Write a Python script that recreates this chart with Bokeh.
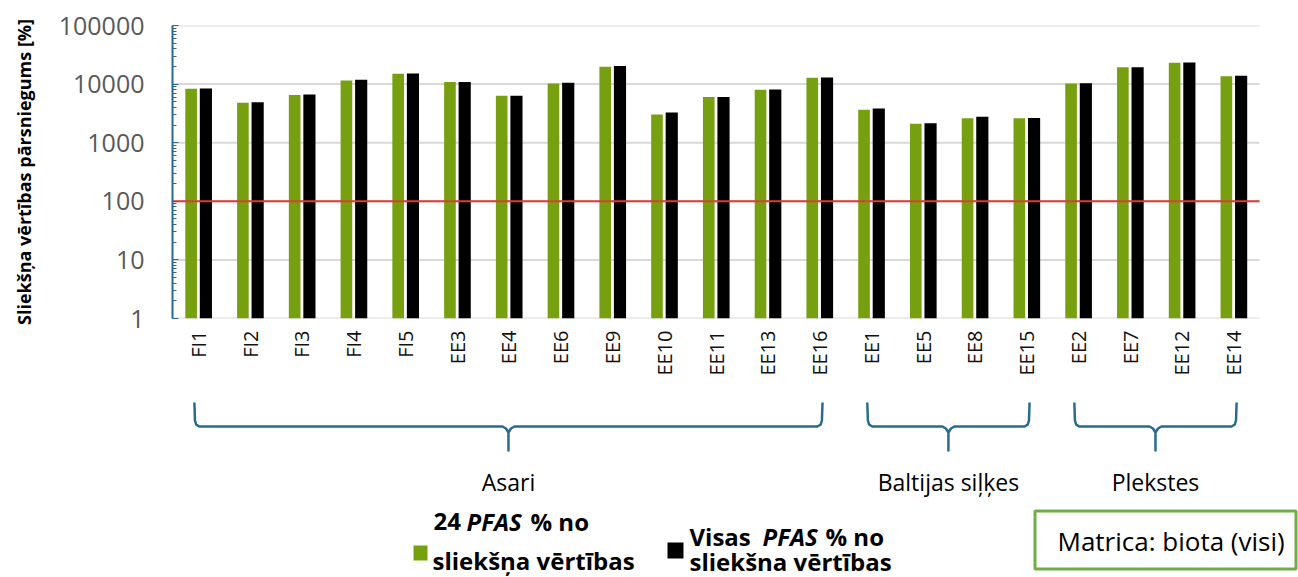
import math
from bokeh.plotting import figure
from bokeh.models import Range1d, FixedTicker, PrintfTickFormatter
from bokeh.layouts import column
from bokeh.embed import file_html
from bokeh.resources import INLINE
from bokeh.core.properties import value

# ---------------- data ----------------
categories = ["FI1", "FI2", "FI3", "FI4", "FI5", "EE3", "EE4", "EE6", "EE9", "EE10",
              "EE11", "EE13", "EE16", "EE1", "EE5", "EE8", "EE15", "EE2", "EE7",
              "EE12", "EE14"]
pfas24_pct = [8340, 4810, 6490, 11560, 15000, 10820, 6320, 10280, 19830, 3035,
              6000, 8020, 12850, 3650, 2100, 2620, 2620, 10280, 19300, 23200, 13550]
pfas_all_pct = [8400, 4920, 6670, 11900, 15100, 10850, 6330, 10560, 20300, 3280,
                6050, 8050, 12900, 3820, 2150, 2770, 2630, 10300, 19350, 23300, 13900]
groups = ["Asari", "Baltijas siļķes", "Plekstes"]
group_first = ["FI1", "EE1", "EE2"]
group_last = ["EE16", "EE15", "EE14"]
y_ticks = [1, 10, 100, 1000, 10000, 100000]
threshold = 100

# ---------------- style / layout ----------------
FONT = "Open Sans"
GREEN = "#77a010"
BLACK = "#000000"
TEAL = "#2a6a8c"
GRID = "#d9d9d9"
RED = "#e23a35"

W, H = 1298, 577
FL, FT = 172, 25          # plot-area left / top on the page
PLOT_RIGHT = 1259         # right end of the category band on the page
FRAME_H = 293
TOP_H = 390
BOT_H = H - TOP_H

n = len(categories)
x_pos = [i + 1 for i in range(n)]               # category slots on a numeric axis
X0 = 0.5
X1 = X0 + n * (W - FL) / (PLOT_RIGHT - FL)      # frame runs to the page edge
px_per_cat = (PLOT_RIGHT - FL) / n

p = figure(x_range=Range1d(X0, X1), y_axis_type="log",
           y_range=Range1d(y_ticks[0], y_ticks[-1]),
           width=W, height=TOP_H, output_backend="svg", toolbar_location=None,
           min_border_left=FL, min_border_right=0, min_border_top=FT,
           min_border_bottom=TOP_H - FT - FRAME_H)
p.outline_line_color = None
p.background_fill_color = "white"
p.grid.visible = False

# horizontal grid lines at the major ticks, over the category band only
p.segment(x0=[X0] * len(y_ticks), x1=[X0 + n] * len(y_ticks), y0=y_ticks, y1=y_ticks,
          line_color=GRID, line_width=2)

xg = [x - 0.14 for x in x_pos]
xb = [x + 0.145 for x in x_pos]
p.vbar(x=xg, top=pfas24_pct, bottom=y_ticks[0], width=0.225,
       fill_color=GREEN, line_color=None)
p.vbar(x=xb, top=pfas_all_pct, bottom=y_ticks[0], width=0.235,
       fill_color=BLACK, line_color=None)

p.segment(x0=[X0], x1=[X0 + n], y0=[threshold], y1=[threshold],
          line_color=RED, line_width=2)

ya = p.yaxis[0]
ya.ticker = FixedTicker(ticks=y_ticks,
                        minor_ticks=[m * t for t in y_ticks[:-1] for m in range(2, 10)])
ya.formatter = PrintfTickFormatter(format="%d")
ya.major_label_text_font = FONT
ya.major_label_text_font_size = "25px"
ya.major_label_text_color = "#595959"
ya.axis_line_color = TEAL
ya.axis_line_width = 2
ya.major_tick_line_color = TEAL
ya.minor_tick_line_color = TEAL
ya.major_tick_in = 6
ya.major_tick_out = 0
ya.minor_tick_in = 4
ya.minor_tick_out = 0
ya.major_label_standoff = 28
ya.axis_label = "Sliekšņa vērtības pārsniegums [%]"
ya.axis_label_text_font = FONT
ya.axis_label_text_font_size = "18px"
ya.axis_label_text_font_style = "bold"
ya.axis_label_text_color = "#000000"
ya.axis_label_standoff = 20

xa = p.xaxis[0]
xa.ticker = FixedTicker(ticks=x_pos, minor_ticks=[])
xa.major_label_overrides = {x: c for x, c in zip(x_pos, categories)}
xa.major_label_orientation = math.pi / 2
xa.major_label_text_font = FONT
xa.major_label_text_font_size = "20px"
xa.major_label_text_color = "#111111"
xa.major_tick_in = 0
xa.major_tick_out = 0
xa.minor_tick_in = 0
xa.minor_tick_out = 0
xa.major_label_standoff = 12
xa.axis_line_color = None

# ---------------- lower panel: group brackets, legend, note box ----------------
# this panel's coordinates are page pixels
p2 = figure(width=W, height=BOT_H, x_range=Range1d(FL, W),
            y_range=Range1d(H, TOP_H),
            output_backend="svg", toolbar_location=None,
            min_border_left=FL, min_border_right=0, min_border_top=0, min_border_bottom=0,
            x_axis_location=None, y_axis_location=None)
p2.outline_line_color = None
p2.grid.visible = False

def page_x(xv):
    return FL + (xv - X0) * px_per_cat

xs, ys = [], []
lx, ly, lt = [], [], []
for name, f, l in zip(groups, group_first, group_last):
    xl = page_x(x_pos[categories.index(f)]) - 4
    xr = page_x(x_pos[categories.index(l)]) + 3
    xc = (xl + xr) / 2
    yt, yh, yb = 402, 426, 450
    xs.append([xl, xl + 0.6, xl + 1.8, xl + 5, xc - 6, xc - 2.5, xc, xc, xc, xc + 2.5,
               xc + 6, xr - 5, xr - 1.8, xr - 0.6, xr])
    ys.append([yt, yh - 6, yh - 2, yh, yh, yh + 2, yh + 6, yb, yh + 6, yh + 2,
               yh, yh, yh - 2, yh - 6, yt])
    lx.append(xc)
    ly.append(481)
    lt.append(name)
p2.multi_line(xs=xs, ys=ys, line_color=TEAL, line_width=2.5, line_join="round")
p2.text(x=lx, y=ly, text=lt, text_font=value(FONT), text_font_size="23px",
        text_align="center", text_baseline="alphabetic", text_color="#000000")

# legend
p2.quad(left=[413, 667], right=[427, 683], top=[545, 542], bottom=[560, 558],
        fill_color=[GREEN, BLACK], line_color=None)
leg_txt = ["24", "PFAS", "% no", "sliekšņa vērtības",
           "Visas", "PFAS", "% no", "sliekšna vērtības"]
leg_x = [433, 466, 530, 432, 689, 762, 825, 689]
leg_y = [521, 521, 521, 560, 536, 536, 536, 561]
leg_style = ["bold", "bold italic", "bold", "bold", "bold", "bold italic", "bold", "bold"]
for t, x, y, s in zip(leg_txt, leg_x, leg_y, leg_style):
    p2.text(x=[x], y=[y], text=[t], text_font=value(FONT), text_font_size="24px",
            text_font_style=s, text_align="left", text_baseline="alphabetic",
            text_color="#000000")

# note box
p2.quad(left=[1034.5], right=[1295.5], top=[510.5], bottom=[568.5],
        fill_color=None, line_color="#70ad47", line_width=3)
p2.text(x=[1057], y=[540], text=["Matrica: biota (visi)"], text_font=value(FONT),
        text_font_size="26px", text_align="left", text_baseline="alphabetic",
        text_color="#000000")

layout = column(p, p2, spacing=0)
open("out.html", "w").write(file_html(layout, INLINE))
